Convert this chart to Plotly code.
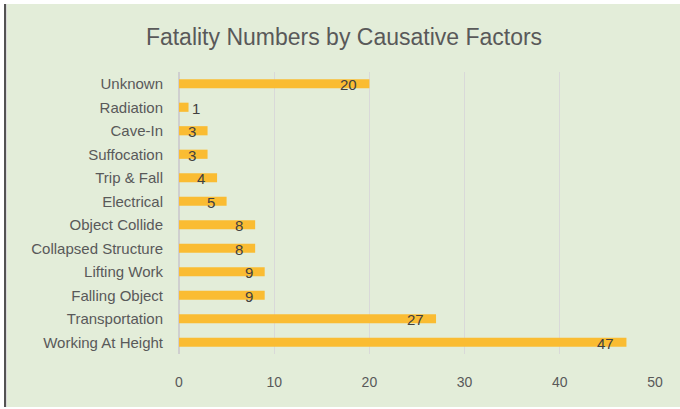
import plotly.graph_objects as go

categories = ["Working At Height", "Transportation", "Falling Object", "Lifting Work",
              "Collapsed Structure", "Object Collide", "Electrical", "Trip & Fall",
              "Suffocation", "Cave-In", "Radiation", "Unknown"]
values = [47, 27, 9, 9, 8, 8, 5, 4, 3, 3, 1, 20]
x_ticks = [0, 10, 20, 30, 40, 50]

BG = "#E3EDD9"
BAR = "#FABC32"
TXT = "#595959"

W, H = 680, 409
ML, MR, MT, MB = 179, 25, 72, 55
pw, ph = W - ML - MR, H - MT - MB

def px_x(p):
    return (p - ML) / pw

def px_y(q):
    return (H - MB - q) / ph

fig = go.Figure()
fig.add_trace(go.Bar(
    x=values, y=categories, orientation="h",
    marker=dict(color=BAR, line=dict(width=0)),
    width=0.39, hoverinfo="x+y",
))

annotations = []
for c, v in zip(categories, values):
    if v < 2:
        annotations.append(dict(x=v, y=c, xref="x", yref="y", text=str(v), showarrow=False,
                                xanchor="left", xshift=1, yshift=-1,
                                font=dict(family="Liberation Sans", size=15, color="#404040")))
    else:
        annotations.append(dict(x=v, y=c, xref="x", yref="y", text=str(v), showarrow=False,
                                xanchor="right", xshift=-10, yshift=-1,
                                font=dict(family="Liberation Sans", size=15, color="#404040")))

shapes = [
    # green chart area
    dict(type="rect", xref="paper", yref="paper", layer="below",
         x0=px_x(6), x1=px_x(W + 2), y0=px_y(407), y1=px_y(4),
         fillcolor=BG, line=dict(width=0)),
    # left dark border
    dict(type="line", xref="paper", yref="paper", layer="above",
         x0=px_x(5), x1=px_x(5), y0=px_y(407), y1=px_y(4),
         line=dict(color="#1a1a1a", width=1.5)),
    dict(type="line", xref="paper", yref="paper", layer="above",
         x0=px_x(6.5), x1=px_x(6.5), y0=px_y(407), y1=px_y(4),
         line=dict(color="#D8D8D8", width=1)),
]

fig.update_layout(
    width=W, height=H,
    margin=dict(l=ML, r=MR, t=MT, b=MB, pad=0),
    paper_bgcolor="white",
    plot_bgcolor=BG,
    showlegend=False,
    title=dict(text="Fatality Numbers by Causative Factors", x=344 / W, xref="container",
               y=1 - 37 / H, yref="container", xanchor="center", yanchor="middle",
               font=dict(family="Liberation Sans", size=23, color=TXT)),
    xaxis=dict(range=[0, 50], tickvals=x_ticks, ticktext=[str(t) for t in x_ticks],
               showgrid=True, gridcolor="#D9D9D9", gridwidth=1,
               zeroline=True, zerolinecolor="#CFCFCF", zerolinewidth=2,
               showline=False, ticks="", ticklabelstandoff=18,
               tickfont=dict(family="Liberation Sans", size=14, color=TXT), fixedrange=True),
    yaxis=dict(categoryorder="array", categoryarray=categories,
               showgrid=False, zeroline=False, showline=False, ticks="",
               ticklabelstandoff=15,
               tickfont=dict(family="Liberation Sans", size=15, color=TXT), fixedrange=True),
    annotations=annotations,
    shapes=shapes,
)

fig.write_html("out.html", config={"displayModeBar": False},
               post_script="document.body.style.margin='0';document.body.style.padding='0';")
